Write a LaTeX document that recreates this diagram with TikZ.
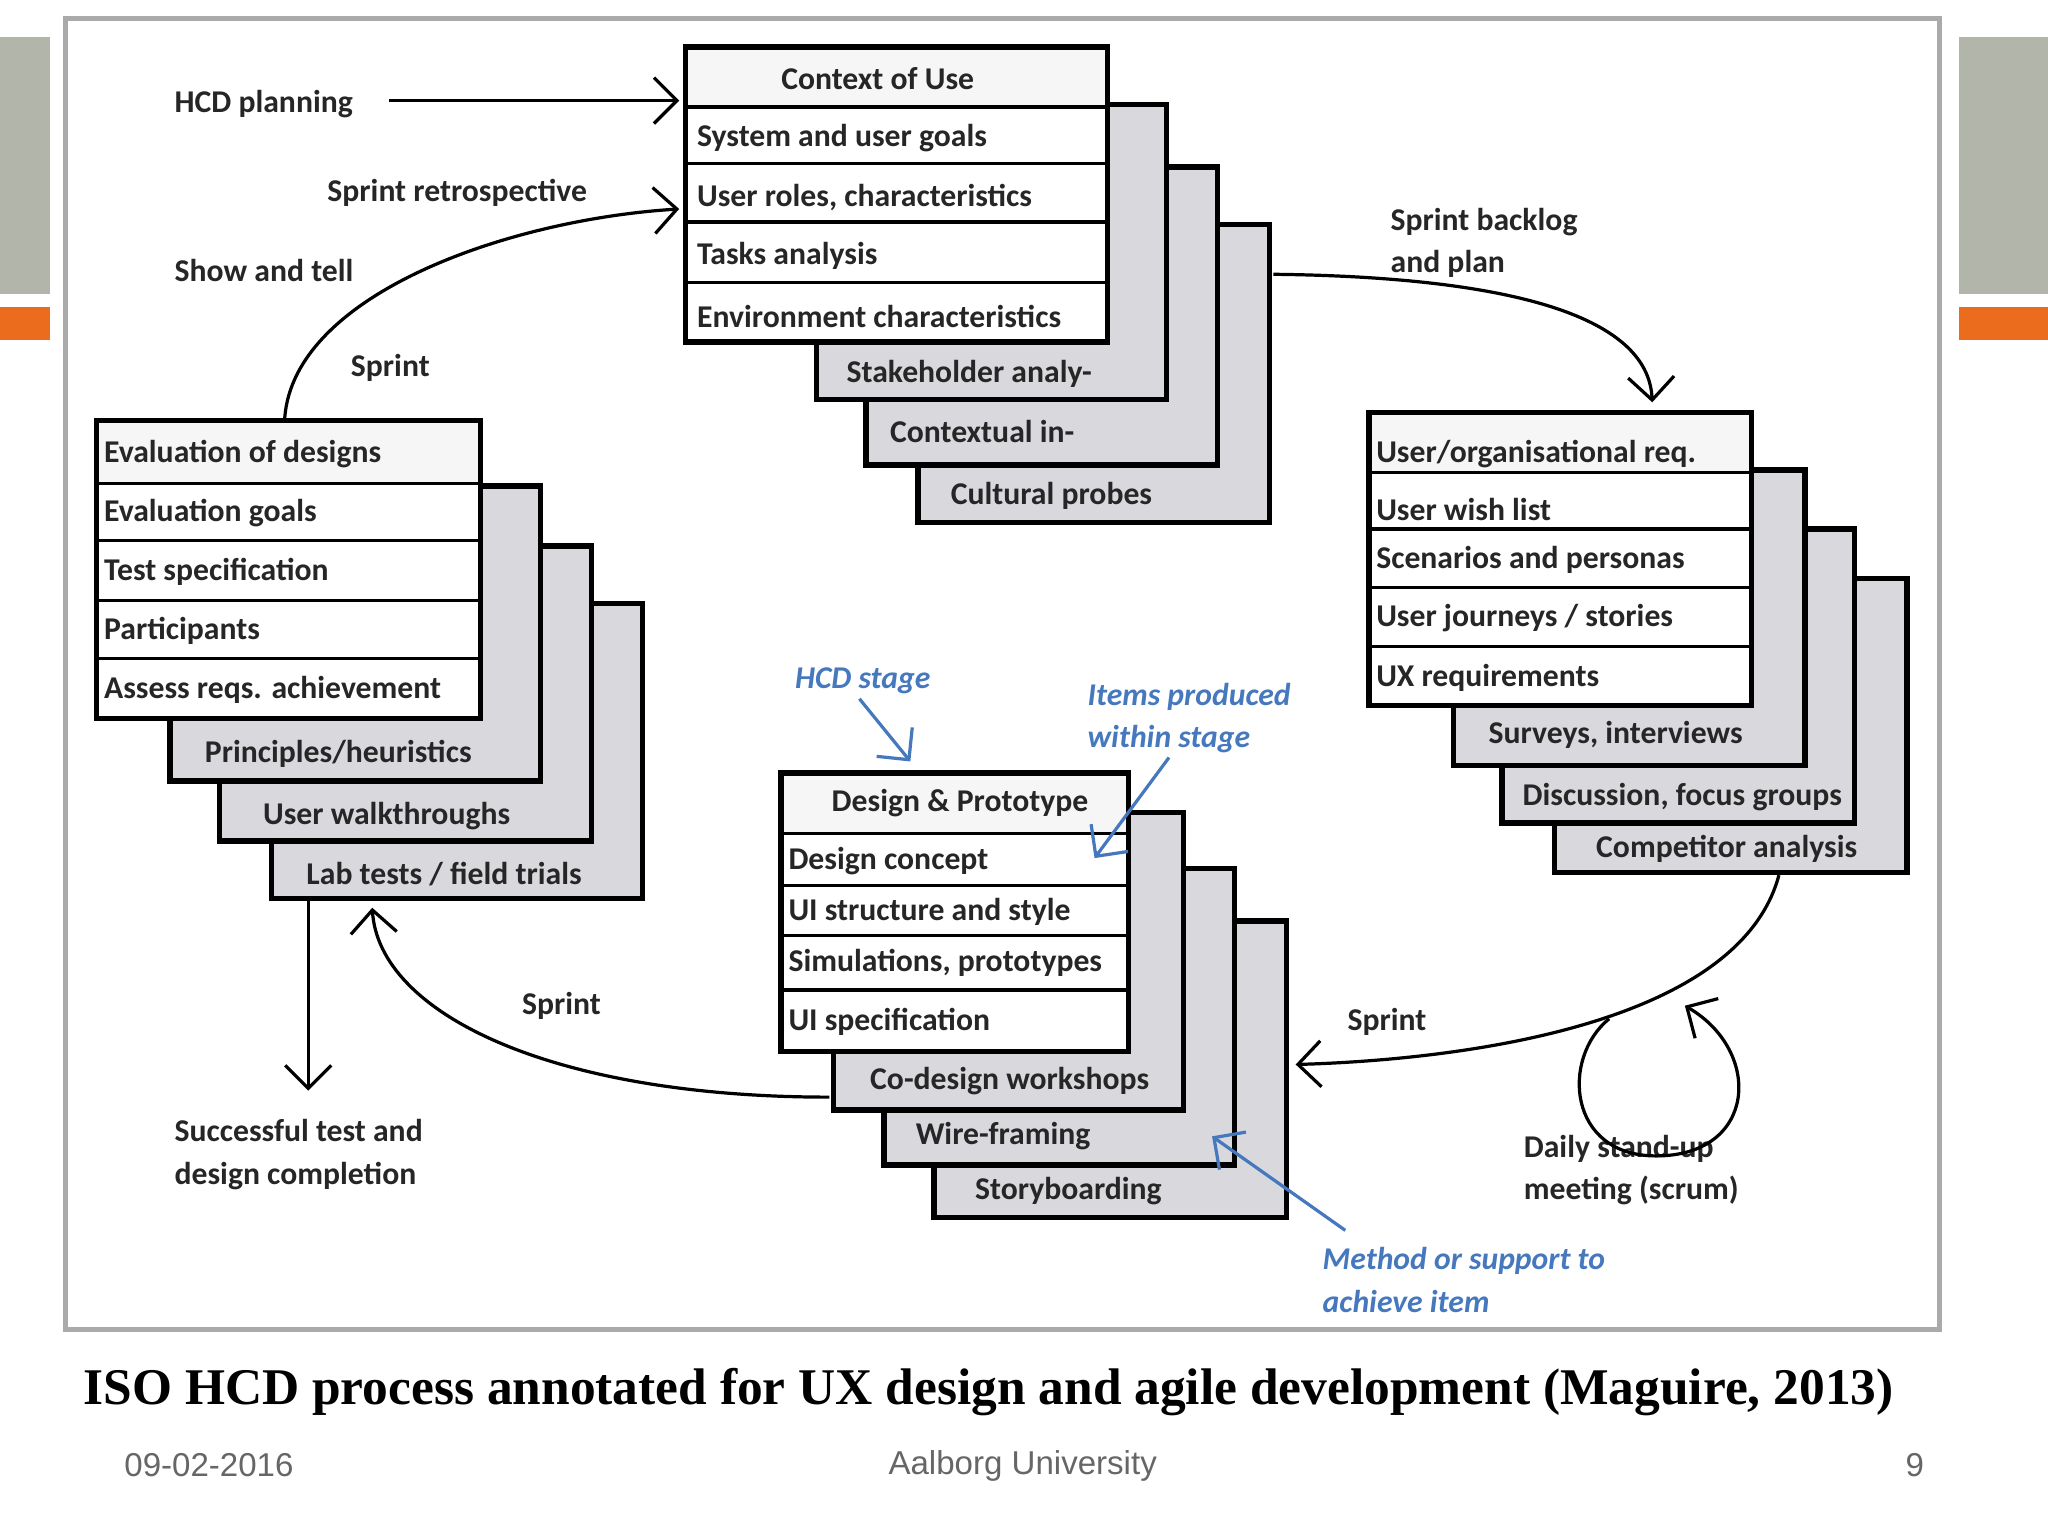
\documentclass[tikz,border=0pt]{standalone}
\usepackage{fontspec}
\setmainfont{Carlito}
\newfontfamily\titlefont{Liberation Serif}
\newfontfamily\footfont{Liberation Sans}
\usetikzlibrary{arrows.meta,positioning}
\definecolor{hcdblue}{RGB}{70,120,190}
\definecolor{backgray}{RGB}{216,216,221}
\definecolor{bargray}{RGB}{178,182,170}
\definecolor{barorange}{RGB}{236,108,30}
\definecolor{framegray}{RGB}{170,170,170}

\tikzset{
  mainbox/.style={draw, line width=1.2pt, fill=white},
  headrow/.style={fill=gray!7},
  backbox/.style={draw, line width=1.2pt, fill=backgray},
  rowline/.style={line width=0.7pt},
  item/.style={font=\fontsize{6.9}{8}\selectfont\bfseries, text=black!85, anchor=west, inner sep=0},
  head/.style={item, anchor=center},
  note/.style={font=\fontsize{6.9}{9.2}\selectfont\bfseries, text=black!85, align=left, anchor=west, inner sep=0},
  bluenote/.style={note, text=hcdblue, font=\fontsize{6.9}{9.2}\selectfont\bfseries\itshape},
  flow/.style={-{Straight Barb[length=5pt,width=10pt]}, line width=0.7pt},
  blueflow/.style={flow, hcdblue},
}

\begin{document}
\begin{tikzpicture}[x=0.01cm, y=-0.01cm]
  \useasboundingbox (0,0) rectangle (1568,1176);

  % Slide decoration
  \fill[bargray] (0,28) rectangle (38,225);
  \fill[barorange] (0,235) rectangle (38,260);
  \fill[bargray] (1500,28) rectangle (1568,225);
  \fill[barorange] (1500,235) rectangle (1568,260);
  \draw[framegray, line width=1pt] (50,14) rectangle (1485,1018);

  % Stack: context of use
  \draw[backbox] (703,172) rectangle (972,400);
  \node[head] (cup) at (805,380) {Cultural probes};
  \draw[backbox] (663,128) rectangle (932,356);
  \node[head] (cin) at (752,330) {Contextual in-};
  \draw[backbox] (625,80) rectangle (893,306);
  \node[head] (sta) at (742,286) {Stakeholder analy-};
  \fill[white] (525,36) rectangle (848,262);
  \fill[headrow] (525,36) rectangle (848,82);
  \draw[mainbox, fill=none] (525,36) rectangle (848,262);
  \foreach \y in {82,125,170,216} \draw[rowline] (525,\y) -- (848,\y);
  \node[head] (ctx) at (672,60) {Context of Use};
  \foreach \y/\txt in {106/System and user goals, 151/{User roles, characteristics},
                       196/Tasks analysis, 242/Environment characteristics}
    \node[item] at (533,\y) {\txt};
  \coordinate (ctxin1) at (520,77);
  \coordinate (ctxin2) at (520,160);
  \coordinate (ctxout) at (975,210);

  % Stack: requirements
  \draw[backbox] (1190,443) rectangle (1460,668);
  \node[head] (com) at (1322,650) {Competitor analysis};
  \draw[backbox] (1150,405) rectangle (1420,630);
  \node[head] (dis) at (1288,610) {Discussion, focus groups};
  \draw[backbox] (1113,360) rectangle (1382,586);
  \node[head] (sur) at (1237,563) {Surveys, interviews};
  \fill[white] (1048,316) rectangle (1341,540);
  \fill[headrow] (1048,316) rectangle (1341,362);
  \draw[mainbox, fill=none] (1048,316) rectangle (1341,540);
  \foreach \y in {362,405,450,495} \draw[rowline] (1048,\y) -- (1341,\y);
  \node[item] (req) at (1053,348) {User/organisational req.};
  \foreach \y/\txt in {390/User wish list, 429/Scenarios and personas,
                       473/{User journeys / stories}, 519/UX requirements}
    \node[item] at (1053,\y) {\txt};
  \coordinate (reqin) at (1265,308);
  \coordinate (reqout) at (1362,670);

  % Stack: design
  \draw[backbox] (715,705) rectangle (985,932);
  \node[head] (sto) at (818,912) {Storyboarding};
  \draw[backbox] (677,665) rectangle (945,892);
  \node[head] (wir) at (768,870) {Wire-framing};
  \draw[backbox] (638,622) rectangle (906,850);
  \node[head] (cod) at (773,828) {Co-design workshops};
  \fill[white] (598,592) rectangle (864,805);
  \fill[headrow] (598,592) rectangle (864,638);
  \draw[mainbox, fill=none] (598,592) rectangle (864,805);
  \foreach \y in {638,678,716,758} \draw[rowline] (598,\y) -- (864,\y);
  \node[head] (des) at (735,615) {Design \& Prototype};
  \foreach \y/\txt in {659/Design concept, 698/UI structure and style,
                       737/{Simulations, prototypes}, 782/UI specification}
    \node[item] at (603,\y) {\txt};
  \coordinate (desin) at (992,815);
  \coordinate (desout) at (635,840);

  % Stack: evaluation
  \draw[backbox] (208,462) rectangle (492,688);
  \node[head] (lab) at (340,669) {Lab tests / field trials};
  \draw[backbox] (168,418) rectangle (453,644);
  \node[head] (wal) at (296,625) {User walkthroughs};
  \draw[backbox] (130,372) rectangle (414,598);
  \node[head] (pri) at (259,577) {Principles/heuristics};
  \fill[white] (74,322) rectangle (368,550);
  \fill[headrow] (74,322) rectangle (368,370);
  \draw[mainbox, fill=none] (74,322) rectangle (368,550);
  \foreach \y in {370,414,460,504} \draw[rowline] (74,\y) -- (368,\y);
  \node[item] (eva) at (79,348) {Evaluation of designs};
  \foreach \y/\txt in {393/Evaluation goals, 438/Test specification,
                       483/Participants, 528/Assess reqs. achievement}
    \node[item] at (79,\y) {\txt};
  \coordinate (evain) at (285,695);
  \coordinate (evaout) at (218,320);
  \coordinate (evadown) at (236,690);
  \coordinate (done) at (236,835);

  % Labels
  \node[note] (plan) at (133,80) {HCD planning};
  \node[note] (retro) at (250,148) {Sprint retrospective};
  \node[note] (show) at (133,207) {Show and tell};
  \node[note] (spr1) at (268,282) {Sprint};
  \node[note] (backlog) at (1064,186) {Sprint backlog\\and plan};
  \node[note] (spr2) at (1031,782) {Sprint};
  \node[note] (spr3) at (399,770) {Sprint};
  \node[note] (daily) at (1166,896) {Daily stand-up\\meeting (scrum)};
  \node[note] (success) at (133,884) {Successful test and\\design completion};

  % Connectors
  \coordinate (planend) at (298,77);
  \draw[flow] (planend) -- (ctxin1);
  \draw[flow] (evaout) .. controls (225,225) and (390,168) .. (ctxin2);
  \draw[flow] (ctxout) .. controls (1150,212) and (1262,240) .. (reqin);
  \draw[flow] (reqout) .. controls (1330,790) and (1100,812) .. (desin);
  \draw[flow] (desout) .. controls (420,840) and (290,775) .. (evain);
  \draw[flow] (evadown) -- (done);
  \coordinate (loopa) at (1232,780);
  \coordinate (loopb) at (1290,770);
  \draw[flow] (loopa) .. controls (1195,810) and (1200,885) .. (1268,885)
    .. controls (1345,885) and (1350,805) .. (loopb);

  % Annotations
  \node[bluenote] (stage) at (608,521) {HCD stage};
  \node[bluenote] (items) at (832,550) {Items produced\\within stage};
  \node[bluenote] (method) at (1012,980) {Method or support to\\achieve item};
  \coordinate (stagea) at (658,535);
  \coordinate (stageb) at (697,583);
  \coordinate (itemsa) at (895,580);
  \coordinate (itemsb) at (838,657);
  \coordinate (methoda) at (1030,942);
  \coordinate (methodb) at (928,870);
  \draw[blueflow] (stagea) -- (stageb);
  \draw[blueflow] (itemsa) -- (itemsb);
  \draw[blueflow] (methoda) -- (methodb);

  % Caption and footer
  \node[font=\titlefont\bfseries\fontsize{11.2}{12}\selectfont] (title) at (757,1066)
    {ISO HCD process annotated for UX design and agile development (Maguire, 2013)};
  \node[font=\footfont\fontsize{7.2}{8}\selectfont, text=gray!80!black] (date) at (160,1122) {09-02-2016};
  \node[font=\footfont\fontsize{7.2}{8}\selectfont, text=gray!80!black] (uni) at (783,1122) {Aalborg University};
  \node[font=\footfont\fontsize{7.2}{8}\selectfont, text=gray!80!black] (page) at (1466,1122) {9};
\end{tikzpicture}
\end{document}
